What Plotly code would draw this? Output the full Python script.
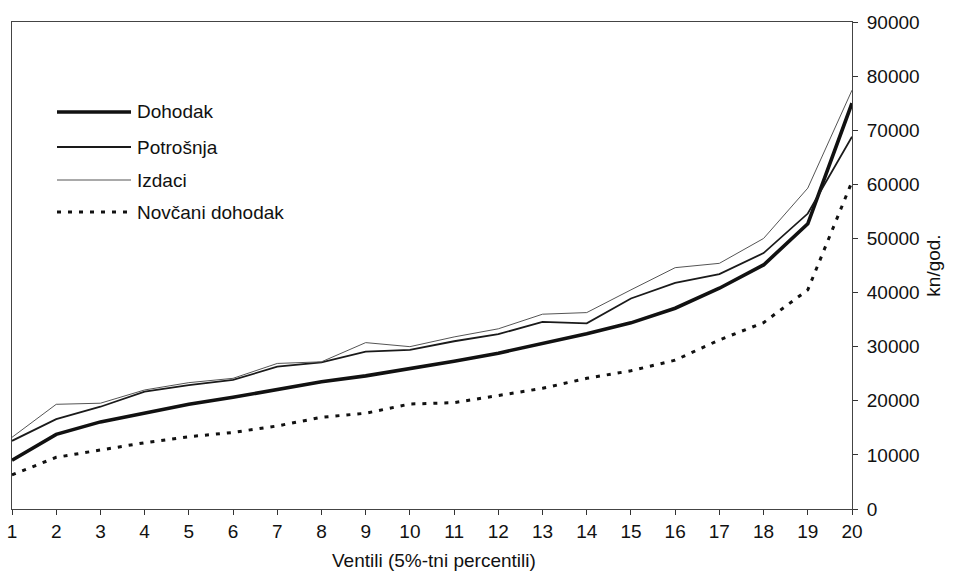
import plotly.graph_objects as go

ventili = list(range(1, 21))
dohodak = [9000, 13800, 16100, 17700, 19350, 20650, 22000, 23500, 24600, 25900,
           27300, 28800, 30600, 32400, 34400, 37100, 40800, 45100, 52700, 75000]
potrosnja = [12600, 16600, 18900, 21700, 22900, 23850, 26300, 27100, 29100, 29400,
             31000, 32300, 34600, 34300, 38900, 41800, 43400, 47300, 54600, 68800]
izdaci = [13250, 19350, 19550, 22000, 23350, 24150, 26900, 27200, 30750, 30000,
          31800, 33300, 36000, 36300, 40500, 44600, 45400, 50000, 59300, 77400]
novcani = [6300, 9550, 10900, 12250, 13350, 14150, 15350, 16950, 17700, 19400,
           19650, 21000, 22300, 24150, 25550, 27500, 31250, 34450, 40500, 60500]

names = ["Dohodak", "Potrošnja", "Izdaci", "Novčani dohodak"]
series = [dohodak, potrosnja, izdaci, novcani]
styles = [
    dict(color="#111111", width=3.6),
    dict(color="#1a1a1a", width=1.8),
    dict(color="#555555", width=1.0),
    dict(color="#111111", width=3.0, dash="4px,7px"),
]

fig = go.Figure()
for n, s, st in zip(names, series, styles):
    fig.add_trace(go.Scatter(x=ventili, y=s, mode="lines", name=n, line=st,
                             showlegend=False))

font = "Liberation Sans, Arial, sans-serif"
fs = 19

# custom legend (line sample + label), placed in pixel-like paper coords
W, H = 960, 571
ml, mr, mt, mb = 12, 108, 22, 62
pw, ph = W - ml - mr, H - mt - mb
def px(x):
    return (x - ml) / pw
def py(y):
    return (H - mb - y) / ph

leg_y = [112, 147, 180, 212]
for n, st, yy in zip(names, styles, leg_y):
    fig.add_shape(type="line", xref="paper", yref="paper",
                  x0=px(57), x1=px(131), y0=py(yy), y1=py(yy), line=st)
    fig.add_annotation(xref="paper", yref="paper", x=px(135), y=py(yy),
                       text=n, showarrow=False, xanchor="left", yanchor="middle",
                       font=dict(family=font, size=fs, color="#111111"))

# x-axis title
fig.add_annotation(xref="paper", yref="paper", x=px(434), y=py(560),
                   text="Ventili (5%-tni percentili)", showarrow=False,
                   xanchor="center", yanchor="middle",
                   font=dict(family=font, size=fs, color="#111111"))

fig.update_layout(
    width=W, height=H,
    margin=dict(l=ml, r=mr, t=mt, b=mb),
    paper_bgcolor="white", plot_bgcolor="white",
    font=dict(family=font, size=fs, color="#111111"),
    xaxis=dict(range=[1, 20], tickmode="array", tickvals=ventili,
               ticks="outside", ticklen=5, tickcolor="#333333",
               showline=True, linecolor="#444444", linewidth=1, mirror=True,
               showgrid=False, zeroline=False, ticklabelstandoff=0,
               automargin=False,
               tickfont=dict(family=font, size=fs, color="#111111")),
    yaxis=dict(range=[0, 90000], dtick=10000, side="right", tickformat="d",
               ticks="outside", ticklen=5, tickcolor="#333333",
               showline=True, linecolor="#444444", linewidth=1, mirror=True,
               showgrid=False, zeroline=False, ticklabelstandoff=5,
               automargin=False,
               tickfont=dict(family=font, size=fs, color="#111111"),
               title=dict(text="kn/god.", standoff=8,
                          font=dict(family=font, size=fs, color="#111111"))),
)

fig.write_html("out.html",
               config={"displayModeBar": False},
               post_script="document.body.style.margin='0';document.body.style.overflow='hidden';")
